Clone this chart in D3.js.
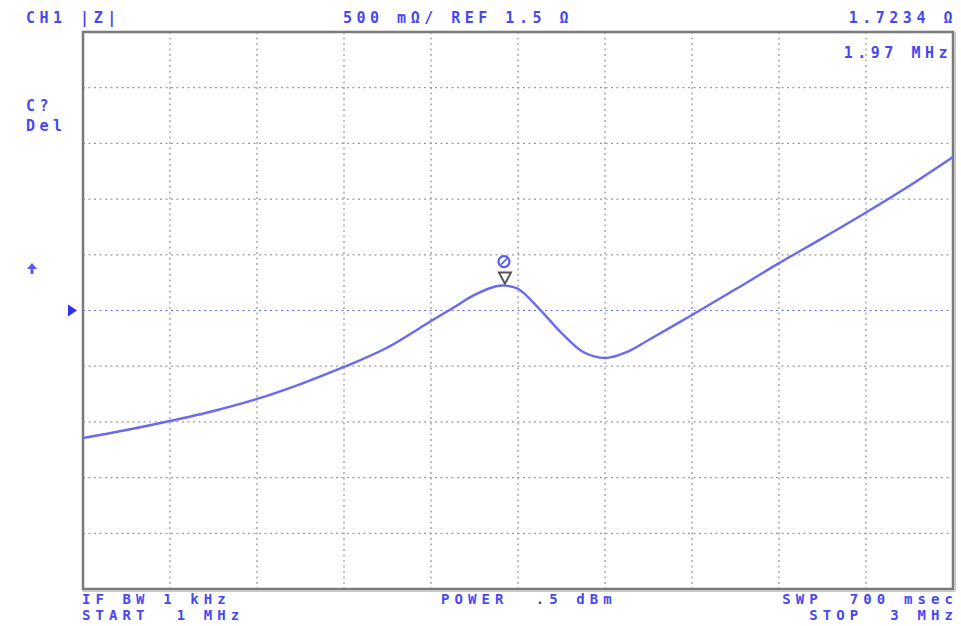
<!DOCTYPE html>
<html><head><meta charset="utf-8">
<script src="https://cdn.jsdelivr.net/npm/d3@7/dist/d3.min.js"></script>
<style>
html,body{margin:0;padding:0;background:#fff;}
svg text{font-family:"DejaVu Sans Mono",monospace;font-weight:bold;font-size:15px;fill:#4848f0;letter-spacing:4.5px;white-space:pre;}
svg text.foot{font-size:14px;letter-spacing:5.1px;}
</style></head>
<body><svg id="c" width="961" height="626"></svg>
<script>
// Frequency (MHz) and |Z| (ohm)
const freqs = [1.0,1.1,1.2,1.3,1.4,1.5,1.6,1.7,1.8,1.85,1.9,1.95,1.97,2.0,2.05,2.1,2.15,2.2,2.25,2.3,2.4,2.5,2.6,2.7,2.8,2.9,3.0];
const impedance = [0.355,0.427,0.508,0.598,0.706,0.840,0.993,1.168,1.405,1.522,1.640,1.718,1.7234,1.695,1.510,1.298,1.127,1.074,1.127,1.235,1.460,1.690,1.925,2.150,2.380,2.620,2.878];
const xDomain = [1, 3];
const refValue = 1.5, perDiv = 0.5, nDiv = 10;
const marker = {freq:1.97, value:1.7234};
const headerTexts = {left:"CH1 |Z|", center:"500 m\u03A9/ REF 1.5 \u03A9", right:"1.7234 \u03A9", markerFreq:"1.97 MHz"};
const footerTexts = {bw:"IF BW 1 kHz", start:"START  1 MHz", power:"POWER  .5 dBm", swp:"SWP  700 msec", stop:"STOP  3 MHz"};
const sideTexts = ["C?","Del"];

const svg = d3.select("#c");
const L=83, T=32, R=953, B=589;
const x = d3.scaleLinear().domain(xDomain).range([L,R]);
const y = d3.scaleLinear().domain([refValue-perDiv*nDiv/2, refValue+perDiv*nDiv/2]).range([B,T]);

// grid
const gx = d3.range(1,nDiv).map(i=>xDomain[0]+i*(xDomain[1]-xDomain[0])/nDiv);
const gy = d3.range(1,nDiv).map(i=>y.domain()[0]+i*perDiv).filter(v=>Math.abs(v-refValue)>1e-9);
svg.append("g").selectAll("line").data(gx).join("line")
  .attr("x1",d=>x(d)).attr("x2",d=>x(d)).attr("y1",T).attr("y2",B)
  .attr("stroke","#9a9a9a").attr("stroke-width",1.3).attr("stroke-dasharray","2,3.5");
svg.append("g").selectAll("line").data(gy).join("line")
  .attr("x1",L).attr("x2",R).attr("y1",d=>y(d)).attr("y2",d=>y(d))
  .attr("stroke","#9a9a9a").attr("stroke-width",1.3).attr("stroke-dasharray","2,3.5");
// reference line
svg.append("line").attr("x1",L).attr("x2",R).attr("y1",y(refValue)).attr("y2",y(refValue))
  .attr("stroke","#6a6af5").attr("stroke-width",1.2).attr("stroke-dasharray","2,3.5");

// frame
svg.append("rect").attr("x",L).attr("y",T).attr("width",R-L).attr("height",B-T)
  .attr("fill","none").attr("stroke","#7a7a7a").attr("stroke-width",2.5);
svg.append("line").attr("x1",R+2).attr("x2",R+2).attr("y1",T).attr("y2",B+2).attr("stroke","#c8c8c8").attr("stroke-width",2);
svg.append("line").attr("x1",L).attr("x2",R+2).attr("y1",B+2).attr("y2",B+2).attr("stroke","#c8c8c8").attr("stroke-width",2);

// trace
const line = d3.line().x((d,i)=>x(freqs[i])).y(d=>y(d)).curve(d3.curveCatmullRom.alpha(0.5));
svg.append("path").datum(impedance).attr("d",line)
  .attr("fill","none").attr("stroke","#6a6af0").attr("stroke-width",2.4).attr("stroke-linejoin","round");

// marker
const mx = x(marker.freq), my = y(marker.value);
svg.append("path").attr("d",`M${mx-6},${my-13}L${mx+6},${my-13}L${mx},${my-2}Z`)
  .attr("fill","#fff").attr("stroke","#555").attr("stroke-width",2);
svg.append("circle").attr("cx",mx-1).attr("cy",my-24).attr("r",5.5).attr("fill","none").attr("stroke","#5a5af0").attr("stroke-width",2.2);
svg.append("line").attr("x1",mx-4).attr("x2",mx+2).attr("y1",my-21).attr("y2",my-27).attr("stroke","#5a5af0").attr("stroke-width",1.5);

// reference pointer triangle
const ry = y(refValue);
svg.append("path").attr("d",`M68,${ry-6}L77,${ry}L68,${ry+6}Z`).attr("fill","#3030f0");
// up arrow
svg.append("path").attr("d","M32,263L27,269L30.5,269L30.5,274L33.5,274L33.5,269L37,269Z").attr("fill","#5a5af0");

// texts
const t = (s,xx,yy,anchor,cls)=>svg.append("text").attr("class",cls||null).attr("x",xx).attr("y",yy).attr("text-anchor",anchor||"start").text(s);
t(headerTexts.left,26,23);
t(headerTexts.center,343,23);
t(headerTexts.right,957,23,"end");
t(headerTexts.markerFreq,952,58,"end");
t(sideTexts[0],26,111);
t(sideTexts[1],26,131);
t(footerTexts.bw,82,604,"start","foot");
t(footerTexts.start,82,620,"start","foot");
t(footerTexts.power,441,604,"start","foot");
t(footerTexts.swp,958,604,"end","foot");
t(footerTexts.stop,958,620,"end","foot");
</script></body></html>
